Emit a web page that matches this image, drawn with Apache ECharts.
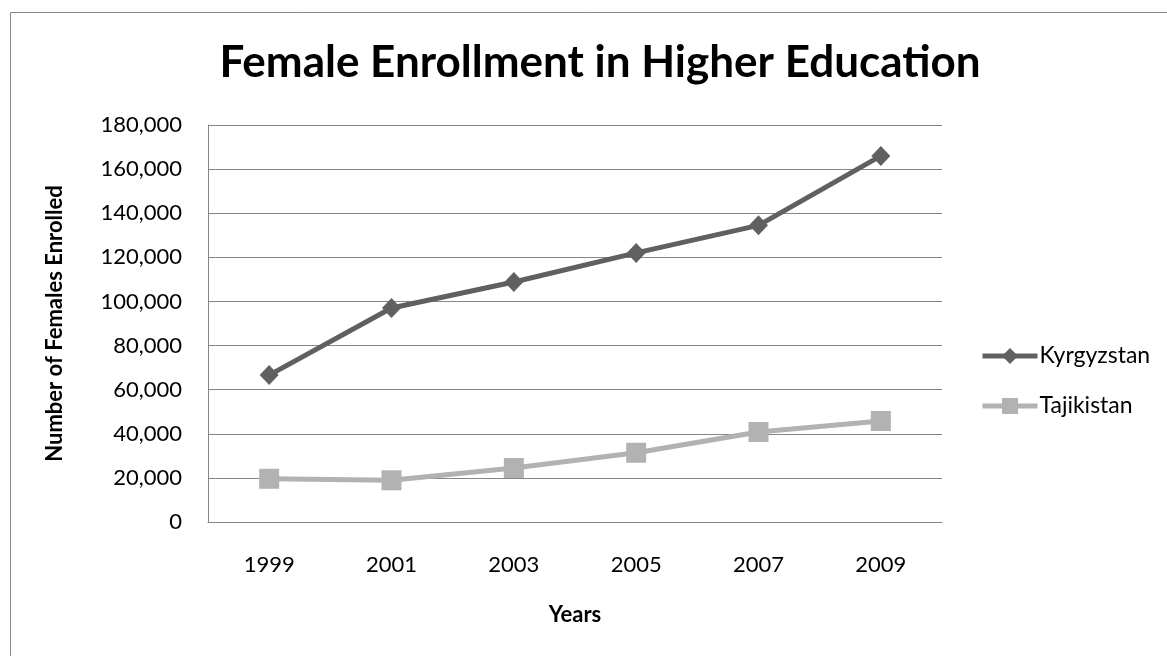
<!DOCTYPE html>
<html>
<head>
<meta charset="utf-8">
<script src="https://cdn.jsdelivr.net/npm/echarts@6/dist/echarts.min.js"></script>
<style>
  html, body { margin: 0; padding: 0; background: #fff; }
  #chart { width: 1167px; height: 656px; }
</style>
</head>
<body>
<div id="chart"></div>
<script>
const years = ['1999', '2001', '2003', '2005', '2007', '2009']
const kyrgyzstan = [66600, 97000, 108800, 122000, 134500, 166000]
const tajikistan = [19600, 18900, 24500, 31400, 40800, 45800]

const font = 'Lato, "Open Sans", sans-serif'
const chart = echarts.init(document.getElementById('chart'))

chart.setOption({
  backgroundColor: '#fff',
  animation: false,
  graphic: [
    {
      type: 'rect',
      shape: { x: 10.5, y: 12.5, width: 1170, height: 660 },
      style: { fill: 'none', stroke: '#868686', lineWidth: 1 },
    },
  ],
  title: {
    text: 'Female Enrollment in Higher Education',
    left: 595,
    textAlign: 'center',
    top: 36,
    textStyle: { fontFamily: font, fontSize: 44, fontWeight: 'bold', color: '#000' },
  },
  grid: { left: 208, right: 225, top: 125, bottom: 134 },
  legend: {
    orient: 'vertical',
    left: 980,
    top: 344,
    padding: 0,
    itemGap: 26,
    itemWidth: 55,
    itemHeight: 20,
    lineStyle: { width: 5 },
    textStyle: { fontFamily: font, fontSize: 23, lineHeight: 24, color: '#000', padding: [0, 0, 0, -3] },
    data: ['Kyrgyzstan', 'Tajikistan'],
  },
  xAxis: {
    type: 'category',
    data: years,
    name: 'Years',
    nameLocation: 'middle',
    nameGap: 82,
    nameTextStyle: { fontFamily: font, fontSize: 22, fontWeight: 'bold', color: '#000' },
    axisLine: { lineStyle: { color: '#868686', width: 1 } },
    axisTick: { show: false },
    axisLabel: { fontFamily: font, fontSize: 22, color: '#000', margin: 32 },
  },
  yAxis: {
    type: 'value',
    min: 0,
    max: 180000,
    interval: 20000,
    name: 'Number of Females Enrolled',
    nameLocation: 'middle',
    nameGap: 142,
    nameRotate: 90,
    nameTextStyle: { fontFamily: font, fontSize: 22, fontWeight: 'bold', color: '#000' },
    axisLine: { show: true, lineStyle: { color: '#868686', width: 1 } },
    axisTick: { show: false },
    splitLine: { lineStyle: { color: '#868686', width: 1 } },
    axisLabel: {
      fontFamily: font,
      fontSize: 22,
      color: '#000',
      margin: 26,
      formatter: (v) => v.toLocaleString('en-US'),
    },
  },
  series: [
    {
      name: 'Kyrgyzstan',
      type: 'line',
      data: kyrgyzstan,
      symbol: 'diamond',
      symbolSize: [19, 20],
      lineStyle: { color: '#606060', width: 5 },
      itemStyle: { color: '#606060' },
    },
    {
      name: 'Tajikistan',
      type: 'line',
      data: tajikistan,
      symbol: 'rect',
      symbolSize: 20,
      lineStyle: { color: '#b2b2b2', width: 5 },
      itemStyle: { color: '#b2b2b2' },
    },
  ],
})
</script>
</body>
</html>
